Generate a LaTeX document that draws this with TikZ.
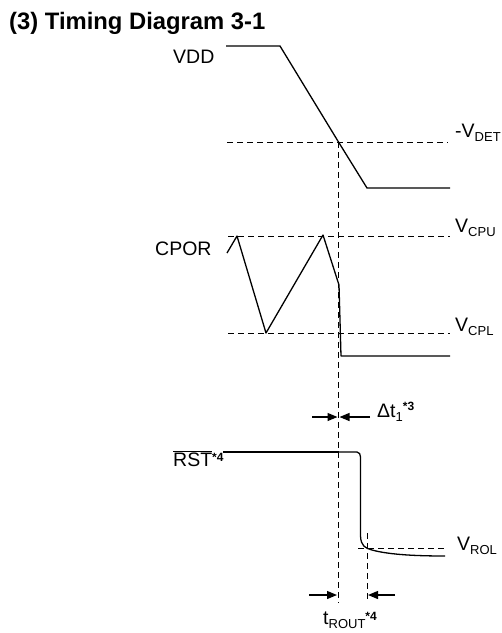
\documentclass[tikz,border=0pt]{standalone}
\usepackage{fontspec}
\setmainfont{Liberation Sans}
\usetikzlibrary{arrows.meta}
\newcommand{\lbsub}[1]{\raisebox{-0.22em}{\fontsize{13}{13}\selectfont #1}}
\newcommand{\lbsup}[2][6pt]{\raisebox{#1}{\fontsize{12}{12}\selectfont\bfseries #2}}
\begin{document}
\begin{tikzpicture}[x=1pt,y=-1pt,
  lbl/.style={inner sep=0pt, anchor=base west, font=\fontsize{19.5}{22}\selectfont},
  sig/.style={line width=1.3pt, line join=round},
  guide/.style={line width=1pt, dash pattern=on 6pt off 4pt},
  dim/.style={line width=1.2pt, -{Triangle[length=10pt,width=8pt]}}]
\useasboundingbox (0,0) rectangle (502,633);
% title
\node[lbl, font=\fontsize{23.8}{26}\selectfont\bfseries] (title) at (9,29) {(3) Timing Diagram 3-1};
% labels
\node[lbl] (vdd) at (173,63) {VDD};
\node[lbl] (vdet) at (455,137) {-V\lbsub{DET}};
\node[lbl] (cpor) at (155,255) {CPOR};
\node[lbl] (vcpu) at (455,232) {V\lbsub{CPU}};
\node[lbl] (vcpl) at (455,331) {V\lbsub{CPL}};
\node[lbl] (dt) at (377,417) {Δt\lbsub{1}\lbsup[6.5pt]{*3}};
\node[lbl] (rst) at (173,466) {\rlap{\rule[13.6pt]{39pt}{1pt}}RST\lbsup[4.5pt]{*4}};
\node[lbl] (vrol) at (457,550) {V\lbsub{ROL}};
\node[lbl] (trout) at (323,624) {t\lbsub{ROUT}\lbsup[3.5pt]{*4}};
% coordinates
\coordinate (cross) at (338.5,142);
\coordinate (gbot) at (338.5,603);
\coordinate (g2top) at (367,533);
\coordinate (g2bot) at (367,600);
% guides
\draw[guide] (227,142) -- (448,142);
\draw[guide] (228,236) -- (450,236);
\draw[guide] (228,333) -- (450,333);
\draw[guide] (358,548) -- (447,548);
\draw[guide] (cross) -- (gbot);
\draw[guide] (g2top) -- (g2bot);
% VDD waveform
\draw[sig] (226,46) -- (280,46) -- (cross) -- (367,188) -- (450,188);
% CPOR waveform
\draw[sig] (227,253) -- (237,236) -- (266,333) -- (323,235) -- (339,285) -- (341,356) -- (450,356);
% RST waveform
\draw[line width=2pt] (223,452) -- (338.5,452);
\draw[sig] (338.5,452) -- (357,452) to[out=0,in=90] (360.5,457) -- (360.5,536)
  .. controls (361,546) and (365,548) .. (372,550)
  .. controls (390,555) and (420,556) .. (445,556);
% dimension arrows
\draw[dim] (312,417) -- (337.5,417);
\draw[dim] (370,417) -- (339.5,417);
\draw[dim] (309,595) -- (337,595);
\draw[dim] (395,595) -- (368,595);
\end{tikzpicture}
\end{document}
